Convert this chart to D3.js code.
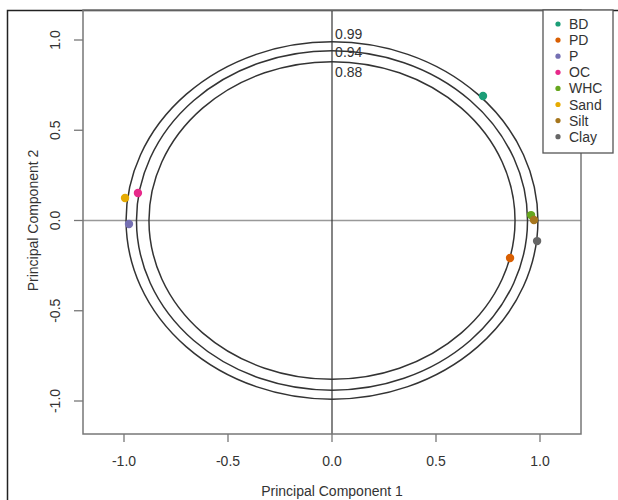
<!DOCTYPE html>
<html><head><meta charset="utf-8">
<script src="https://cdn.jsdelivr.net/npm/d3@7"></script>
<style>body{margin:0;background:#fff}svg{display:block}text{font-family:"Liberation Sans",Arial,sans-serif}</style>
</head><body><svg id="c" width="618" height="500"></svg>
<script>
const variables = ["BD","PD","P","OC","WHC","Sand","Silt","Clay"];
const pc1 = [0.726, 0.856, -0.976, -0.933, 0.957, -0.995, 0.971, 0.986];
const pc2 = [0.690, -0.208, -0.019, 0.152, 0.030, 0.125, 0.003, -0.114];
const colors = ["#1B9E77","#D95F02","#7570B3","#E7298A","#66A61E","#E6AB02","#A6761D","#666666"];
const radii = [0.99, 0.94, 0.88];
const radiusLabels = ["0.99","0.94","0.88"];
const radiusLabelY = [1.033, 0.935, 0.824];
const ticks = [-1.0, -0.5, 0.0, 0.5, 1.0];

const svg = d3.select("#c");
const L = 83, R = 581, T = 10, B = 434;
const x = d3.scaleLinear().domain([-1, 1]).range([124, 540]);
const y = d3.scaleLinear().domain([-1, 1]).range([401, 40]);

// outer frame
svg.append("path").attr("d", `M7.5,500 V10.5 H618`).attr("fill","none").attr("stroke","#222").attr("stroke-width",1.5);

// reference lines
svg.append("line").attr("x1",L).attr("x2",R).attr("y1",y(0)).attr("y2",y(0)).attr("stroke","#999").attr("stroke-width",1.3);
svg.append("line").attr("x1",x(0)).attr("x2",x(0)).attr("y1",T).attr("y2",B).attr("stroke","#333").attr("stroke-width",1.2);

// circles
radii.forEach(r => {
  svg.append("ellipse").attr("cx",x(0)).attr("cy",y(0))
    .attr("rx",x(r)-x(0)).attr("ry",y(0)-y(r))
    .attr("fill","none").attr("stroke","#333").attr("stroke-width",1.5);
});
radiusLabels.forEach((t,i) => {
  svg.append("text").attr("x",x(0.015)).attr("y",y(radiusLabelY[i])).attr("dy","0.35em")
    .attr("font-size",14).attr("fill","#333").text(t);
});

// box
svg.append("rect").attr("x",L).attr("y",T).attr("width",R-L).attr("height",B-T)
  .attr("fill","none").attr("stroke","#777").attr("stroke-width",1.5);

// x axis
const gx = svg.append("g");
ticks.forEach(t => {
  gx.append("line").attr("x1",x(t)).attr("x2",x(t)).attr("y1",B).attr("y2",B+8).attr("stroke","#777").attr("stroke-width",1.3);
  gx.append("text").attr("x",x(t)).attr("y",461).attr("dy","0.35em").attr("text-anchor","middle")
    .attr("font-size",14).attr("fill","#333").text(t.toFixed(1));
});
svg.append("text").attr("x",x(0)).attr("y",491).attr("dy","0.35em").attr("text-anchor","middle")
  .attr("font-size",14).attr("fill","#333").text("Principal Component 1");

// y axis
const gy = svg.append("g");
ticks.forEach(t => {
  gy.append("line").attr("x1",L-9).attr("x2",L).attr("y1",y(t)).attr("y2",y(t)).attr("stroke","#777").attr("stroke-width",1.3);
  gy.append("text").attr("transform",`translate(55,${y(t)}) rotate(-90)`).attr("dy","0.35em").attr("text-anchor","middle")
    .attr("font-size",14).attr("fill","#333").text(t.toFixed(1));
});
svg.append("text").attr("transform",`translate(33,${y(0)}) rotate(-90)`).attr("dy","0.35em").attr("text-anchor","middle")
  .attr("font-size",14).attr("fill","#333").text("Principal Component 2");

// points
svg.append("g").selectAll("circle").data(variables).join("circle")
  .attr("cx",(d,i)=>x(pc1[i])).attr("cy",(d,i)=>y(pc2[i])).attr("r",4.2)
  .attr("fill",(d,i)=>colors[i]);

// legend
const lg = svg.append("g");
lg.append("rect").attr("x",543).attr("y",10).attr("width",70).attr("height",143)
  .attr("fill","#fff").attr("stroke","#555").attr("stroke-width",1.3);
variables.forEach((v,i) => {
  const yy = 24 + i*16.1;
  lg.append("circle").attr("cx",558).attr("cy",yy).attr("r",2.6).attr("fill",colors[i]);
  lg.append("text").attr("x",569).attr("y",yy).attr("dy","0.36em").attr("font-size",14).attr("fill","#333").text(v);
});
</script></body></html>
